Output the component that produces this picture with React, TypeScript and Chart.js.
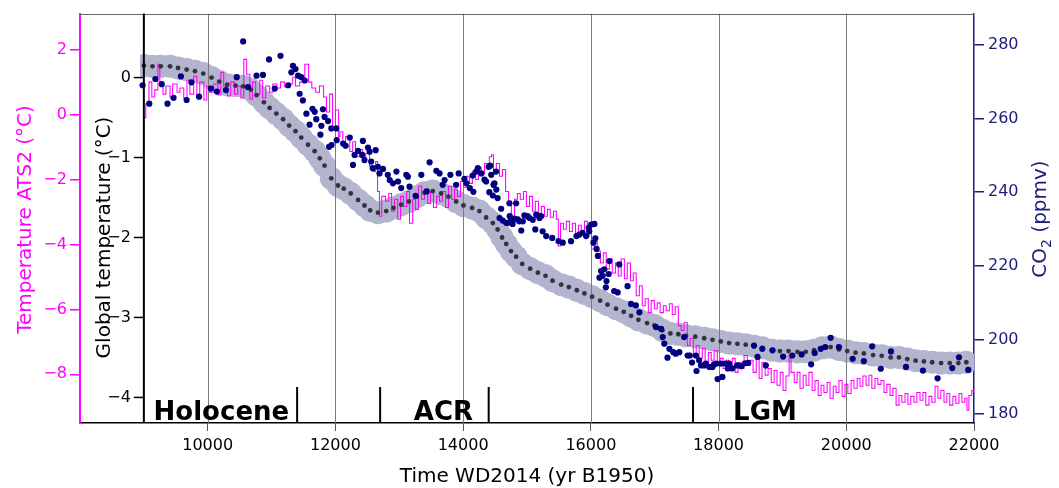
import React, { useEffect, useRef } from 'react';
import { Chart, registerables } from 'chart.js';

Chart.register(...registerables);

const FONT = "'DejaVu Sans', 'Liberation Sans', sans-serif";

// ---- axes / ticks ----
const xTickYears = [8000, 10000, 12000, 14000, 16000, 18000, 20000, 22000];
const gridYears = [10000, 12000, 14000, 16000, 18000, 20000];
const ats2Ticks = [-8, -6, -4, -2, 0, 2];
const globalTicks = [-4, -3, -2, -1, 0];
const co2Ticks = [180, 200, 220, 240, 260, 280];
const innerAxisYear = 9000;

// ---- climate periods ----
const periodBoundaries = [11400, 12700, 14400, 17600];
const periodNames = ['Holocene', 'ACR', 'LGM'];
const periodCenters = [10214, 13692, 18727];

// ---- ATS2 temperature (°C), step series ----
const ats2Years = [
  9000, 9030, 9080, 9125, 9170, 9220, 9250, 9300, 9345, 9410, 9450, 9520, 9565, 9625, 9675, 9720, 9780, 9830, 9875, 9940,
  9985, 10030, 10095, 10160, 10205, 10250, 10310, 10360, 10420, 10470, 10520, 10565, 10610, 10660, 10700, 10750, 10815, 10860, 10910, 10970,
  11020, 11080, 11140, 11205, 11270, 11330, 11375, 11440, 11520, 11580, 11630, 11690, 11750, 11815, 11860, 11910, 11955, 12000, 12050,
  12070, 12115, 12160, 12225, 12270, 12315, 12380, 12425, 12475, 12535, 12585, 12630, 12660, 12690, 12725, 12785, 12835, 12880, 12925, 12975,
  13020, 13065, 13115, 13160, 13210, 13255, 13300, 13350, 13395, 13445, 13490, 13535, 13585, 13630, 13675, 13725, 13770, 13820, 13865, 13910,
  13960, 14005, 14055, 14100, 14145, 14195, 14240, 14285, 14335, 14380, 14410, 14445, 14475, 14520, 14570, 14615, 14665, 14710, 14755, 14805, 14850,
  14895, 14945, 14990, 15040, 15085, 15130, 15180, 15225, 15275, 15320, 15365, 15415, 15460, 15490, 15525, 15570, 15615, 15665, 15710, 15760,
  15805, 15850, 15900, 15945, 15975, 16010, 16055, 16100, 16150, 16195, 16240, 16290, 16335, 16385, 16430, 16475, 16525, 16570, 16620, 16665,
  16710, 16760, 16805, 16850, 16900, 16945, 16995, 17040, 17085, 17135, 17180, 17230, 17275, 17320, 17370, 17415, 17460, 17510, 17555, 17605,
  17650, 17695, 17745, 17790, 17840, 17885, 17930, 17980, 18025, 18070, 18120, 18165, 18215, 18260, 18305,
  18355, 18400, 18450, 18495, 18540, 18590, 18635, 18680, 18730, 18775, 18825, 18870, 18915, 18965, 19010, 19055, 19105, 19135, 19185, 19230,
  19275, 19325, 19370, 19415, 19465, 19510, 19560, 19605, 19650, 19700, 19745, 19795, 19840, 19885, 19935, 19980, 20025, 20075, 20120, 20170,
  20215, 20260, 20310, 20355, 20400, 20450, 20495, 20545, 20590, 20635, 20685, 20730, 20780, 20825, 20870, 20920, 20965, 21010, 21060, 21105,
  21155, 21200, 21245, 21295, 21340, 21390, 21435, 21480, 21530, 21575, 21620, 21670, 21715, 21765, 21810, 21855, 21890, 21920, 21965, 22000,
];
const ats2Temp = [
  -0.1, 0.33, 1.0, 0.54, 0.76, 1.55, 1.0, 0.63, 0.88, 0.54, 0.94, 0.69, 0.82, 0.51, 1.06, 0.63, 1.18, 0.51, 1.0, 0.45,
  0.88, 0.69, 0.94, 0.6, 1.3, 0.88, 0.57, 1.0, 0.63, 0.88, 0.51, 1.7, 1.24, 0.48, 1.0, 0.63, 1.06, 0.51, 0.88, 0.69,
  0.94, 0.82, 1.0, 0.85, 0.94, 1.15, 0.88, 1.0, 1.55, 1.0, 0.82, 0.69, 0.88, 0.54, 0.08, 0.63, -0.38, 0.14, -0.68,
  -0.53, -0.9, -0.68, -1.14, -0.84, -1.3, -1.08, -1.45, -1.2, -1.6, -1.75, -1.45, -2.37, -3.13, -2.52, -2.67, -2.43, -2.98, -2.61, -3.22,
  -2.52, -2.83, -2.37, -3.35, -2.61, -2.92, -2.21, -2.61, -2.3, -2.74, -2.37, -2.86, -2.52, -2.67, -2.37, -2.86, -2.21, -2.61, -2.3, -2.52,
  -2.06, -2.24, -1.9, -2.12, -1.75, -2.0, -1.63, -1.82, -1.51, -1.69, -1.3, -1.24, -1.69, -1.51, -1.9, -1.69, -2.37, -2.67, -3.22, -2.61, -2.43,
  -2.61, -2.37, -2.83, -2.52, -2.98, -2.67, -3.04, -2.83, -3.13, -2.92, -3.16, -2.98, -3.22, -4.05, -3.35, -3.53, -3.29, -3.6, -3.35, -3.66,
  -3.41, -3.6, -3.29, -3.75, -3.35, -4.14, -3.9, -4.2, -4.57, -4.26, -4.76, -4.45, -4.88, -4.57, -4.97, -4.45, -5.06, -4.57, -5.12, -4.88,
  -5.58, -5.27, -5.89, -5.67, -6.1, -5.73, -5.98, -5.8, -6.1, -5.89, -6.04, -5.83, -6.16, -5.92, -6.5, -6.65, -6.41, -7.11, -6.9, -7.42,
  -7.11, -7.51, -7.2, -7.64, -7.33, -7.57, -7.27, -7.73, -7.51, -7.82, -7.57, -7.88, -7.51, -7.94, -7.64,
  -7.82, -7.42, -7.73, -7.57, -7.94, -7.51, -8.13, -7.64, -8.03, -7.82, -8.25, -7.88, -8.34, -7.94, -8.5, -8.05, -7.42, -7.94, -8.25, -7.94,
  -8.43, -8.03, -8.34, -7.94, -8.5, -8.19, -8.65, -8.34, -8.56, -8.25, -8.74, -8.37, -8.56, -8.19, -8.68, -8.31, -8.59, -8.19, -8.43, -8.13,
  -8.37, -8.05, -8.34, -8.03, -8.43, -8.13, -8.31, -8.19, -8.56, -8.31, -8.65, -8.43, -8.95, -8.65, -8.86, -8.59, -8.92, -8.68, -8.86, -8.56,
  -8.8, -8.56, -8.95, -8.68, -8.86, -8.37, -8.74, -8.5, -8.86, -8.59, -8.95, -8.68, -8.89, -8.59, -8.86, -8.74, -9.11, -8.65, -8.5, -8.56,
];

// ---- Global temperature (°C) ----
const globalYears = [
  9000, 9135, 9265, 9410, 9535, 9670, 9800, 9930, 10060, 10180, 10305, 10435, 10555, 10675, 10765, 10880, 10970, 11075, 11180, 11275,
  11375, 11465, 11570, 11675, 11755, 11830, 11935, 12040, 12130, 12240, 12355, 12455, 12545, 12665, 12795, 12910, 13030, 13150, 13275, 13395,
  13525, 13655, 13770, 13890, 14005, 14140, 14255, 14360, 14465, 14540, 14610, 14675, 14750, 14830, 14925, 15050, 15170, 15290, 15400, 15535,
  15655, 15780, 15900, 16020, 16145, 16260, 16395, 16515, 16630, 16745, 16880, 16995, 17120, 17245, 17370, 17490, 17635, 17775, 17905, 18035,
  18165, 18295, 18425, 18555, 18685, 18835, 18960, 19095, 19235, 19365, 19495, 19625, 19755, 19885, 20015, 20145, 20275, 20420, 20555, 20695,
  20825, 20955, 21085, 21215, 21345, 21485, 21620, 21755, 21880,
];
const globalTemp = [
  0.15, 0.14, 0.14, 0.14, 0.12, 0.1, 0.08, 0.05, 0.0, -0.05, -0.09, -0.1, -0.11, -0.15, -0.22, -0.31, -0.38, -0.45, -0.52, -0.6,
  -0.67, -0.75, -0.84, -0.92, -1.01, -1.1, -1.26, -1.35, -1.39, -1.45, -1.53, -1.6, -1.66, -1.69, -1.67, -1.63, -1.59, -1.55, -1.49, -1.44,
  -1.42, -1.45, -1.49, -1.55, -1.6, -1.63, -1.67, -1.75, -1.82, -1.9, -2.0, -2.08, -2.17, -2.24, -2.33, -2.39, -2.44, -2.48, -2.54, -2.59,
  -2.62, -2.66, -2.7, -2.74, -2.79, -2.84, -2.89, -2.93, -2.98, -3.03, -3.07, -3.1, -3.16, -3.2, -3.21, -3.23, -3.24, -3.26, -3.28, -3.3,
  -3.32, -3.33, -3.34, -3.36, -3.38, -3.41, -3.42, -3.42, -3.43, -3.43, -3.41, -3.38, -3.37, -3.4, -3.42, -3.44, -3.45, -3.47, -3.48, -3.5,
  -3.5, -3.52, -3.54, -3.55, -3.56, -3.57, -3.57, -3.57, -3.56,
];

// ---- CO2 (ppmv) ----
const co2Years = [
  8980, 9085, 9180, 9280, 9370, 9465, 9580, 9670, 9745, 9865, 10050, 10145, 10285, 10455, 10555, 10630, 10765, 10865, 10960, 11050,
  11140, 11260, 11310, 11335, 11375, 11415, 11440, 11465, 11490, 11520, 11545, 11595, 11640, 11675, 11700, 11765, 11780, 11805, 11830, 11885,
  11900, 11935, 11940, 12015, 12020, 12120, 12160, 12225, 12275, 12300, 12355, 12420, 12430, 12455, 12510, 12535, 12560, 12585, 12630, 12665,
  12690, 12745, 12820, 12850, 12900, 12955, 12980, 13030, 13110, 13135, 13160, 13255, 13345, 13430, 13475, 13580, 13630, 13680, 13710, 13800,
  13890, 13930, 14020, 14050, 14105, 14150, 14160, 14205, 14230, 14285, 14335, 14360, 14400, 14425, 14410, 14440, 14465, 14475, 14490, 14515,
  14520, 14540, 14595, 14570, 14620, 14675, 14700, 14725, 14730, 14750, 14775, 14805, 14830, 14855, 14880, 14910, 14935, 14960, 15010, 15040,
  15090, 15130, 15145, 15195, 15220, 15245, 15300, 15395, 15495, 15560, 15690, 15775, 15820, 15870, 15925, 15965, 15975, 16005, 16040, 16055,
  16070, 16090, 16110, 16135, 16160, 16185, 16210, 16235, 16245, 16280, 16290, 16365, 16420, 16445, 16575, 16630, 16705, 16760, 17020, 17100,
  17125, 17150, 17200, 17230, 17290, 17330, 17385, 17460, 17515, 17550, 17585, 17645, 17655, 17695, 17725, 17775, 17800, 17855, 17905, 17930,
  17965, 17985, 18035, 18060, 18105, 18145, 18165, 18215, 18290, 18355, 18415, 18465, 18555, 18610, 18685, 18740, 18845, 19010, 19155, 19300,
  19450, 19505, 19600, 19670, 19755, 19885, 20100, 20275, 20405, 20540, 20700, 20935, 21200, 21430, 21660, 21765, 21910,
];
const co2Ppm = [
  269.0, 264.0, 270.7, 269.3, 264.0, 265.6, 271.4, 265.0, 269.8, 265.9, 268.1, 267.3, 267.7, 271.2, 280.9, 268.5, 271.6, 271.8, 276.0, 268.1,
  277.0, 269.0, 272.5, 274.3, 273.4, 271.6, 266.7, 271.2, 264.9, 270.3, 261.3, 258.3, 262.6, 261.8, 259.8, 255.6, 258.0, 262.5, 260.4, 259.3,
  252.3, 257.3, 252.8, 257.3, 254.1, 253.2, 252.6, 254.8, 247.4, 250.1, 251.2, 250.1, 253.9, 248.7, 252.1, 251.0, 248.3, 246.5, 251.4, 246.9,
  245.1, 246.3, 244.7, 243.3, 242.4, 245.6, 242.9, 241.1, 244.7, 244.2, 241.5, 239.0, 244.7, 240.2, 248.1, 245.8, 245.1, 242.0, 243.3, 244.7,
  242.0, 245.1, 243.6, 242.4, 241.1, 244.5, 240.1, 245.6, 246.5, 245.1, 243.4, 242.9, 246.9, 247.2, 240.0, 244.7, 239.1, 242.0, 242.4, 245.6,
  240.7, 238.4, 235.5, 233.0, 232.3, 231.7, 231.7, 237.0, 233.5, 232.3, 231.4, 232.8, 237.0, 232.6, 232.1, 229.6, 232.1, 233.7, 233.5, 233.0,
  232.5, 229.9, 233.9, 233.0, 233.5, 229.4, 228.1, 227.6, 226.7, 226.3, 226.7, 228.1, 228.5, 229.0, 228.1, 230.3, 229.4, 231.2, 226.3, 231.4,
  227.5, 224.6, 222.7, 216.8, 218.6, 217.3, 219.1, 214.2, 215.9, 217.8, 221.3, 213.2, 212.8, 220.4, 214.5, 209.7, 209.3, 207.4, 203.4, 202.9,
  200.7, 198.9, 195.1, 197.5, 196.6, 196.2, 196.6, 200.7, 195.7, 195.7, 193.8, 195.7, 191.5, 194.4, 193.0, 193.0, 193.5, 192.6, 192.6, 193.3,
  193.5, 189.3, 193.5, 189.9, 193.5, 192.2, 193.5, 192.2, 193.0, 192.8, 193.6, 193.7, 198.4, 195.3, 197.5, 193.0, 197.1, 195.4, 195.7, 196.0,
  193.3, 196.4, 197.5, 198.0, 200.5, 198.0, 194.8, 194.2, 198.2, 192.1, 196.8, 192.6, 191.6, 189.5, 192.3, 195.2, 191.8,
];

// ---- colours ----
const MAGENTA = '#ff00ff';
const NAVY = '#1c1c7c';
const DOT_NAVY = '#000080';
const BAND = '#b3b4cd';
const GREY_DOT = '#33333f';

const minusFmt = (v: number) => (v < 0 ? '\u2212' + Math.abs(v) : String(v));
const zip = (xs: number[], ys: number[]) => xs.map((x, i) => ({ x, y: ys[i] }));

export default function App() {
  const ref = useRef<HTMLCanvasElement>(null);

  useEffect(() => {
    const canvas = ref.current;
    if (!canvas) return;
    Chart.defaults.font.family = FONT;

    const overlay = {
      id: 'overlay',
      afterDatasetDraw(chart: any, args: any) {
        if (args.index !== 0) return;
        const { ctx, chartArea, scales } = chart;
        ctx.save();
        ctx.strokeStyle = '#7a7a7a';
        ctx.lineWidth = 1;
        gridYears.forEach((yr) => {
          const x = Math.round(scales.x.getPixelForValue(yr)) + 0.5;
          ctx.beginPath();
          ctx.moveTo(x, chartArea.top);
          ctx.lineTo(x, chartArea.bottom);
          ctx.stroke();
        });
        ctx.restore();
      },
      afterDraw(chart: any) {
        const { ctx, chartArea, scales } = chart;
        const xs = scales.x;
        const yg = scales.yG;
        ctx.save();
        // top frame line
        ctx.strokeStyle = '#666';
        ctx.lineWidth = 1;
        ctx.beginPath();
        ctx.moveTo(chartArea.left, Math.round(chartArea.top) + 0.5);
        ctx.lineTo(chartArea.right, Math.round(chartArea.top) + 0.5);
        ctx.stroke();

        // inner global temperature axis
        const x0 = xs.getPixelForValue(innerAxisYear);
        ctx.strokeStyle = '#000';
        ctx.lineWidth = 2;
        ctx.beginPath();
        ctx.moveTo(x0, chartArea.top);
        ctx.lineTo(x0, chartArea.bottom);
        ctx.stroke();
        ctx.lineWidth = 1.5;
        ctx.fillStyle = '#000';
        ctx.font = `16px ${FONT}`;
        ctx.textAlign = 'right';
        ctx.textBaseline = 'middle';
        globalTicks.forEach((v) => {
          const y = yg.getPixelForValue(v);
          ctx.beginPath();
          ctx.moveTo(x0 - 10, y);
          ctx.lineTo(x0, y);
          ctx.stroke();
          ctx.fillText(minusFmt(v), x0 - 13, y);
        });

        // period boundaries
        ctx.lineWidth = 2;
        const yTop = yg.getPixelForValue(-3.87);
        periodBoundaries.forEach((yr) => {
          const x = xs.getPixelForValue(yr);
          ctx.beginPath();
          ctx.moveTo(x, yTop);
          ctx.lineTo(x, chartArea.bottom);
          ctx.stroke();
        });
        // period labels
        ctx.font = `bold 26px ${FONT}`;
        ctx.textAlign = 'center';
        ctx.textBaseline = 'alphabetic';
        const yLab = yg.getPixelForValue(-4.28);
        periodNames.forEach((n, i) => {
          ctx.fillText(n, xs.getPixelForValue(periodCenters[i]), yLab);
        });

        // axis titles
        const rot = (text: string, x: number, y: number, color: string) => {
          ctx.save();
          ctx.translate(x, y);
          ctx.rotate(-Math.PI / 2);
          ctx.fillStyle = color;
          ctx.font = `20px ${FONT}`;
          ctx.textAlign = 'center';
          ctx.textBaseline = 'alphabetic';
          ctx.fillText(text, 0, 0);
          ctx.restore();
        };
        rot('Temperature ATS2 (°C)', 31, 219.5, MAGENTA);
        rot('Global temperature (°C)', 109.5, 237.5, '#000');

        // CO2 title with subscript
        ctx.save();
        ctx.translate(1046, 219);
        ctx.rotate(-Math.PI / 2);
        ctx.fillStyle = NAVY;
        ctx.textAlign = 'left';
        ctx.textBaseline = 'alphabetic';
        ctx.font = `20px ${FONT}`;
        const wCO = ctx.measureText('CO').width;
        const wRest = ctx.measureText(' (ppmv)').width;
        ctx.font = `14px ${FONT}`;
        const w2 = ctx.measureText('2').width;
        const start = -(wCO + w2 + wRest) / 2;
        ctx.font = `20px ${FONT}`;
        ctx.fillText('CO', start, 0);
        ctx.font = `14px ${FONT}`;
        ctx.fillText('2', start + wCO, 5);
        ctx.font = `20px ${FONT}`;
        ctx.fillText(' (ppmv)', start + wCO + w2, 0);
        ctx.restore();

        // x title
        ctx.fillStyle = '#000';
        ctx.font = `20px ${FONT}`;
        ctx.textAlign = 'center';
        ctx.textBaseline = 'alphabetic';
        ctx.fillText('Time WD2014 (yr B1950)', 527, 482.3);
        ctx.restore();
      },
    };

    const chart = new Chart(canvas, {
      type: 'scatter',
      data: {
        datasets: [
          {
            label: 'band',
            data: zip(globalYears, globalTemp),
            yAxisID: 'yG',
            pointRadius: 11.5,
            pointBackgroundColor: BAND,
            pointBorderWidth: 0,
            showLine: false,
            order: 4,
            clip: { left: -60, top: 0, right: 0, bottom: 0 },
          } as any,
          {
            label: 'ATS2',
            data: zip(ats2Years, ats2Temp),
            yAxisID: 'yT',
            showLine: true,
            stepped: 'before',
            borderColor: MAGENTA,
            borderWidth: 1.05,
            pointRadius: 0,
            order: 3,
          } as any,
          {
            label: 'global',
            data: zip(globalYears, globalTemp),
            yAxisID: 'yG',
            pointRadius: 2.4,
            pointBackgroundColor: GREY_DOT,
            pointBorderWidth: 0,
            showLine: false,
            order: 2,
            clip: { left: -60, top: 0, right: 0, bottom: 0 },
          } as any,
          {
            label: 'CO2',
            data: zip(co2Years, co2Ppm),
            yAxisID: 'yC',
            pointRadius: 3.1,
            pointBackgroundColor: DOT_NAVY,
            pointBorderWidth: 0,
            showLine: false,
            order: 1,
          } as any,
        ],
      },
      options: {
        animation: false,
        responsive: false,
        events: [],
        layout: { padding: { top: 11, left: 0, right: 0, bottom: 0 } },
        plugins: { legend: { display: false }, tooltip: { enabled: false } },
        scales: {
          x: {
            type: 'linear',
            min: 8000,
            max: 22000,
            afterBuildTicks: (s: any) => {
              s.ticks = xTickYears.map((v) => ({ value: v }));
            },
            afterFit: (s: any) => {
              s.height = 65;
            },
            ticks: {
              autoSkip: false,
              maxRotation: 0,
              padding: 5,
              color: '#000',
              font: { size: 16 },
              callback: (v: any) => (v === 8000 ? '' : String(v)),
            },
            grid: {
              drawOnChartArea: false,
              drawTicks: true,
              tickLength: 8,
              lineWidth: 1,
              color: (c: any) => (c.tick && c.tick.value === 8000 ? 'rgba(0,0,0,0)' : '#555'),
            },
            border: { display: true, color: '#000', width: 1.5 },
          },
          yT: {
            type: 'linear',
            position: 'left',
            min: -9.5,
            max: 3.11,
            afterBuildTicks: (s: any) => {
              s.ticks = ats2Ticks.map((v) => ({ value: v }));
            },
            afterFit: (s: any) => {
              s.width = 80;
            },
            ticks: { padding: 3, color: MAGENTA, font: { size: 16 }, callback: (v: any) => minusFmt(v) },
            grid: { drawOnChartArea: false, drawTicks: true, tickLength: 10, color: MAGENTA, lineWidth: 1.5 },
            border: { display: true, color: MAGENTA, width: 2 },
          },
          yC: {
            type: 'linear',
            position: 'right',
            min: 177.39,
            max: 288.44,
            afterBuildTicks: (s: any) => {
              s.ticks = co2Ticks.map((v) => ({ value: v }));
            },
            afterFit: (s: any) => {
              s.width = 85;
            },
            ticks: { padding: 4, color: NAVY, font: { size: 16 }, callback: (v: any) => String(v) },
            grid: { drawOnChartArea: false, drawTicks: true, tickLength: 10, color: NAVY, lineWidth: 1.5 },
            border: { display: true, color: NAVY, width: 1.5 },
          },
          yG: {
            type: 'linear',
            display: false,
            min: -4.32,
            max: 0.8,
          },
        },
      } as any,
      plugins: [overlay],
    });

    return () => chart.destroy();
  }, []);

  return (
    <div style={{ position: 'fixed', left: 0, top: 0, width: 1059, height: 488, background: '#fff' }}>
      <canvas ref={ref} width={1059} height={488} style={{ display: 'block' }} />
    </div>
  );
}
